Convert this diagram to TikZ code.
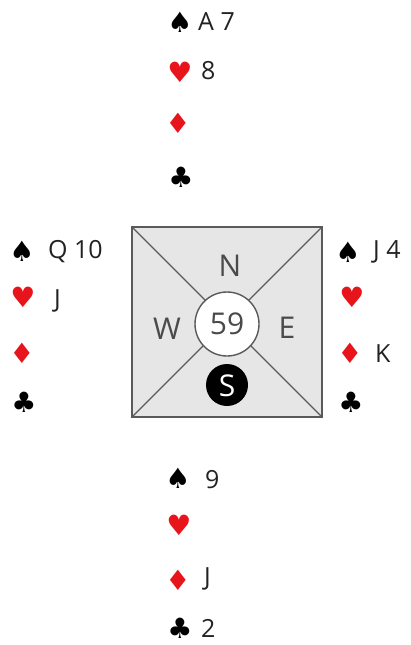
\documentclass[tikz,border=0pt]{standalone}
\usepackage{fontspec}
\setmainfont{Open Sans}
\newfontfamily\suitfont{DejaVu Sans}
\definecolor{suitred}{HTML}{E8141C}
\definecolor{rankcol}{HTML}{222222}
\definecolor{compcol}{HTML}{4A4A4A}
\definecolor{boxfill}{HTML}{E6E6E6}
\definecolor{boxedge}{HTML}{5A5A5A}
\tikzset{
  suitblack/.style={inner sep=0pt, font=\suitfont\fontsize{28}{28}\selectfont, text=black},
  suitredst/.style={inner sep=0pt, font=\suitfont\fontsize{28}{28}\selectfont, text=suitred},
  rank/.style={inner sep=0pt, anchor=base west, font=\fontsize{25}{25}\selectfont, text=rankcol},
  compass/.style={inner sep=0pt, font=\fontsize{30}{30}\selectfont, text=compcol},
}
\begin{document}
\begin{tikzpicture}[x=1pt,y=-1pt]
\useasboundingbox (0,0) rectangle (410,645);
% board
\coordinate (tl) at (132,227);
\coordinate (tr) at (322,227);
\coordinate (bl) at (132,417);
\coordinate (br) at (322,417);
\draw[boxedge, fill=boxfill, line width=1.6pt] (tl) rectangle (br);
\draw[boxedge, line width=1.4pt] (tl) -- (br);
\draw[boxedge, line width=1.4pt] (tr) -- (bl);
\node[circle, draw=boxedge, fill=white, line width=1.4pt, minimum size=64pt, inner sep=0pt] (ctr) at (227,324) {};
\node[compass] (num) at (227,324) {59};
\node[compass] (N) at (230,266) {N};
\node[compass] (W) at (167,329) {W};
\node[compass] (E) at (287,328) {E};
\node[circle, fill=black, minimum size=42pt, inner sep=0pt] (Sc) at (227,385) {};
\node[compass, text=white] (S) at (227,386) {S};
% North
\node[suitblack] (ns) at (180,22) {♠};
\node[rank] (nsr) at (198,30) {A 7};
\node[suitredst] (nh) at (180,72) {♥};
\node[rank] (nhr) at (201,79) {8};
\node[suitredst] (nd) at (178,123) {♦};
\node[suitblack] (nc) at (181,177) {♣};
% West
\node[suitblack] (ws) at (22,251) {♠};
\node[rank] (wsr) at (48,258) {Q 10};
\node[suitredst] (wh) at (23,297) {♥};
\node[rank] (whr) at (54,307) {J};
\node[suitredst] (wd) at (22,353) {♦};
\node[suitblack] (wc) at (24,402) {♣};
% East
\node[suitblack] (es) at (348,252) {♠};
\node[rank] (esr) at (373,258) {J 4};
\node[suitredst] (eh) at (352,297) {♥};
\node[suitredst] (ed) at (350,353) {♦};
\node[rank] (edr) at (375,362) {K};
\node[suitblack] (ec) at (351,402) {♣};
% South
\node[suitblack] (ss) at (178,478) {♠};
\node[rank] (ssr) at (205,488) {9};
\node[suitredst] (sh) at (179,525) {♥};
\node[suitredst] (sd) at (178,580) {♦};
\node[rank] (sdr) at (204,585) {J};
\node[suitblack] (sc) at (180,628) {♣};
\node[rank] (scr) at (201,637) {2};
\end{tikzpicture}
\end{document}
